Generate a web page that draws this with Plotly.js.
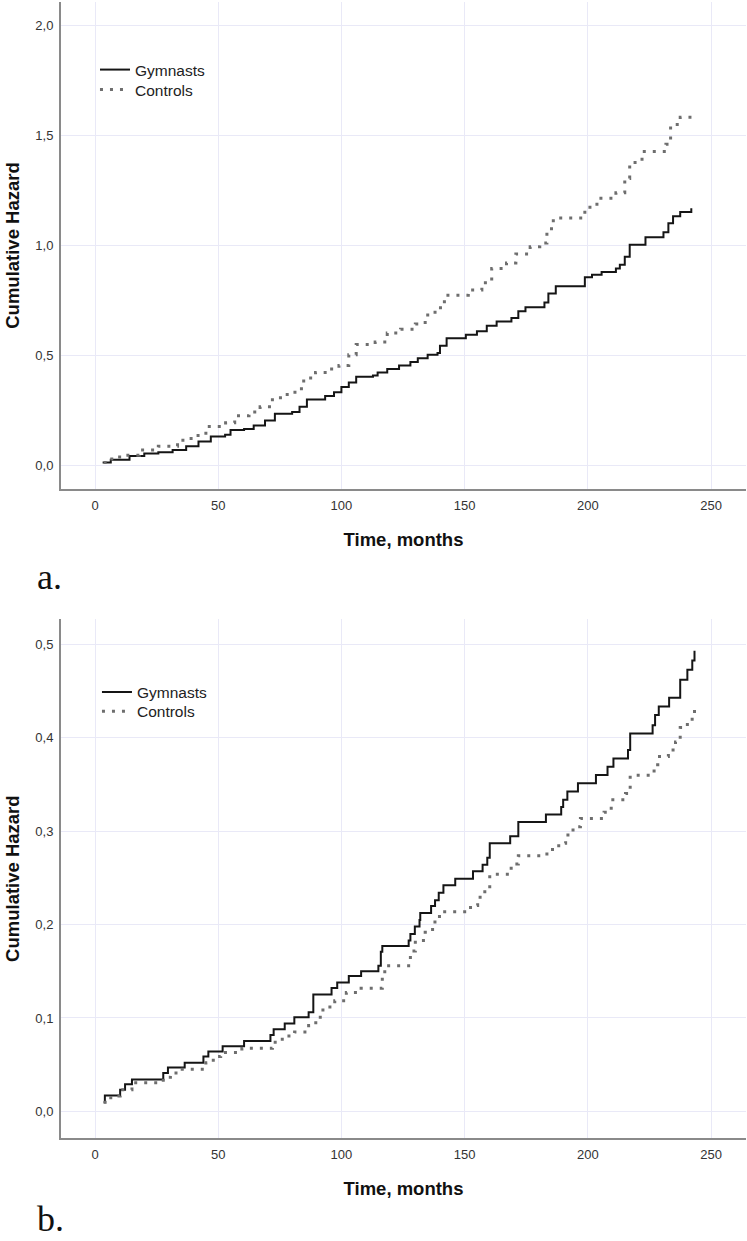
<!DOCTYPE html>
<html>
<head>
<meta charset="utf-8">
<script src="https://cdn.plot.ly/plotly-3.0.1.min.js"></script>
<style>
  html, body { margin: 0; padding: 0; background: #ffffff; }
  #chart { width: 747px; height: 1241px; }
</style>
</head>
<body>
<div id="chart"></div>
<script>
// ---------- Data ----------
// Panel a.
const gymA_time = [3.1, 6.4, 14, 20, 25.7, 31.5, 37, 42, 47, 52.8, 55, 60.5, 64.4, 69, 73, 80, 83, 86, 93.4, 97, 100, 103, 106, 112.8, 114.7, 118.6, 123.4, 128, 131, 135, 139, 140, 142.7, 150.5, 155, 159, 163, 169, 171.8, 174.7, 182.4, 184, 187, 198.8, 201.7, 205.6, 211.4, 213, 215, 217, 223.4, 230.7, 232.7, 234.6, 237.5, 242];
const gymA_haz  = [0.013, 0.025, 0.042, 0.054, 0.059, 0.07, 0.087, 0.108, 0.131, 0.139, 0.16, 0.165, 0.181, 0.204, 0.234, 0.242, 0.266, 0.299, 0.315, 0.332, 0.356, 0.376, 0.402, 0.408, 0.422, 0.438, 0.454, 0.47, 0.487, 0.503, 0.511, 0.544, 0.577, 0.593, 0.609, 0.634, 0.654, 0.67, 0.7, 0.719, 0.74, 0.781, 0.814, 0.855, 0.866, 0.879, 0.895, 0.912, 0.948, 1.002, 1.037, 1.059, 1.1, 1.132, 1.152, 1.168];

const ctlA_time = [3.5, 6.8, 12, 18, 25.7, 33.5, 39, 45, 53, 56.7, 62.5, 67, 72, 78, 82, 84.7, 89.5, 95, 99, 103, 106, 113.7, 118.6, 124, 130, 134, 138, 141.8, 151.5, 157, 161, 167, 170.8, 176.6, 180.5, 183.4, 186, 198.8, 203.7, 211.4, 215, 217, 222, 231.7, 233.6, 237.5, 242.4];
const ctlA_haz  = [0.013, 0.038, 0.046, 0.07, 0.087, 0.114, 0.136, 0.176, 0.193, 0.225, 0.242, 0.266, 0.307, 0.332, 0.348, 0.397, 0.422, 0.438, 0.454, 0.503, 0.549, 0.56, 0.601, 0.618, 0.642, 0.683, 0.716, 0.773, 0.797, 0.83, 0.895, 0.92, 0.961, 0.993, 1.01, 1.075, 1.124, 1.173, 1.214, 1.239, 1.304, 1.377, 1.426, 1.459, 1.549, 1.582, 1.59];

// Panel b.
const gymB_time = [3.5, 4, 10.2, 12.2, 15, 27.7, 29.6, 36.4, 44, 46, 51.8, 60.5, 71.2, 72.5, 77, 80.9, 86.7, 88.6, 96, 98.3, 103, 108, 115, 116, 116.6, 127.3, 128, 129.8, 131.7, 132, 136.4, 138, 139.5, 141.4, 146.2, 153.4, 157.3, 159.2, 160.2, 168.5, 171.8, 183, 189.2, 190, 191.7, 196, 203.3, 208, 210.4, 216.3, 217.2, 226.3, 227.3, 228.8, 233, 237.5, 240.4, 242.4, 243.3];
const gymB_haz  = [0.0098, 0.017, 0.023, 0.029, 0.034, 0.041, 0.047, 0.052, 0.0586, 0.064, 0.0697, 0.0754, 0.0816, 0.088, 0.094, 0.1007, 0.106, 0.125, 0.132, 0.138, 0.145, 0.150, 0.156, 0.171, 0.177, 0.183, 0.19, 0.198, 0.205, 0.2125, 0.22, 0.226, 0.234, 0.242, 0.249, 0.257, 0.264, 0.2715, 0.287, 0.2946, 0.31, 0.318, 0.326, 0.3336, 0.3425, 0.3514, 0.3602, 0.369, 0.378, 0.3869, 0.4046, 0.4135, 0.4246, 0.4335, 0.443, 0.4623, 0.473, 0.483, 0.4933];

const ctlB_time = [3.5, 6.4, 10.2, 15, 27.7, 30.6, 35.4, 45, 48, 51, 59.6, 72, 76, 81, 86.7, 89.6, 92.5, 97.3, 102, 108, 116.6, 117.6, 128, 130, 134, 137, 139.8, 152.4, 155.3, 158.2, 160.2, 168.9, 171.8, 183.4, 188.2, 191, 194, 197, 206.6, 209.5, 215.3, 217.2, 226.9, 228.4, 232.7, 235.6, 237.5, 240.4, 243.3];
const ctlB_haz  = [0.0098, 0.0164, 0.023, 0.0306, 0.0364, 0.041, 0.045, 0.052, 0.0586, 0.063, 0.0674, 0.074, 0.0807, 0.085, 0.0918, 0.1007, 0.1118, 0.1185, 0.1273, 0.1318, 0.145, 0.156, 0.1717, 0.183, 0.1917, 0.2028, 0.2138, 0.2205, 0.2294, 0.2405, 0.2538, 0.265, 0.2737, 0.2804, 0.287, 0.296, 0.3048, 0.3137, 0.3203, 0.3336, 0.3403, 0.36, 0.3713, 0.38, 0.3869, 0.3957, 0.411, 0.42, 0.432];

const seriesNames = ["Gymnasts", "Controls"];
const panelLabels = ["a.", "b."];
const xTitle = "Time, months";
const yTitle = "Cumulative Hazard";
const xTickVals = [0, 50, 100, 150, 200, 250];

// ---------- Styling ----------
const FONT = "Liberation Sans, Arial, sans-serif";
const gridCol = "#e9e9f7";
const axisCol = "#8a8a8a";
const gymLine = { shape: "hv", color: "#151515", width: 2 };
const ctlLine = { shape: "hv", color: "#6e6e6e", width: 3, dash: "3px,7px" };

const traces = [
  { x: gymA_time, y: gymA_haz, name: seriesNames[0], type: "scatter", mode: "lines",
    line: gymLine, xaxis: "x", yaxis: "y", legend: "legend" },
  { x: ctlA_time, y: ctlA_haz, name: seriesNames[1], type: "scatter", mode: "lines",
    line: ctlLine, xaxis: "x", yaxis: "y", legend: "legend2" },
  { x: gymB_time, y: gymB_haz, name: seriesNames[0], type: "scatter", mode: "lines",
    line: gymLine, xaxis: "x2", yaxis: "y2", legend: "legend3" },
  { x: ctlB_time, y: ctlB_haz, name: seriesNames[1], type: "scatter", mode: "lines",
    line: ctlLine, xaxis: "x2", yaxis: "y2", legend: "legend4" }
];

function legendAt(x, y) {
  return {
    x: x, y: y, xanchor: "left", yanchor: "top",
    bgcolor: "rgba(0,0,0,0)", borderwidth: 0,
    font: { family: FONT, size: 15.5, color: "#222222" }
  };
}

function xAxis(anchor) {
  return {
    anchor: anchor, domain: [0, 1],
    range: [-13.8, 264.2], tickvals: xTickVals,
    showgrid: true, gridcolor: gridCol, gridwidth: 1, zeroline: false,
    showline: true, linecolor: axisCol, linewidth: 2,
    ticks: "", ticklabelstandoff: 3,
    tickfont: { family: FONT, size: 13, color: "#333333" },
    title: { text: xTitle, font: { family: FONT, size: 18.5, color: "#111111", weight: "bold" }, standoff: 21 },
    automargin: false
  };
}

function yAxis(anchor, domain, range, dtick) {
  return {
    anchor: anchor, domain: domain,
    range: range, dtick: dtick, tick0: 0, tickformat: ".1f",
    showgrid: true, gridcolor: gridCol, gridwidth: 1, zeroline: false,
    showline: true, linecolor: axisCol, linewidth: 2,
    ticks: "", ticklabelstandoff: 3,
    tickfont: { family: FONT, size: 13, color: "#333333" },
    title: { text: yTitle, font: { family: FONT, size: 18.5, color: "#111111", weight: "bold" }, standoff: 11 },
    automargin: false
  };
}

const labelFont = { family: "Liberation Serif, Times New Roman, serif", size: 36, color: "#111111" };

const layout = {
  width: 747, height: 1241,
  margin: { l: 61, r: 1, t: 2, b: 103 },
  paper_bgcolor: "#ffffff", plot_bgcolor: "#ffffff",
  separators: ", ",
  showlegend: true,
  font: { family: FONT, color: "#333333", size: 13 },
  xaxis: xAxis("y"),
  yaxis: yAxis("x", [0.5713, 1], [-0.1077, 2.106], 0.5),
  xaxis2: xAxis("y2"),
  yaxis2: yAxis("x2", [0, 0.4566], [-0.0286, 0.527], 0.1),
  legend: legendAt(0.0496, 0.9551),
  legend2: legendAt(0.0496, 0.9375),
  legend3: legendAt(0.0525, 0.4073),
  legend4: legendAt(0.0525, 0.3902),
  annotations: [
    { text: panelLabels[0], xref: "paper", yref: "paper", x: -0.038, y: 0.4941,
      xanchor: "left", yanchor: "middle", showarrow: false, font: labelFont },
    { text: panelLabels[1], xref: "paper", yref: "paper", x: -0.038, y: -0.0713,
      xanchor: "left", yanchor: "middle", showarrow: false, font: labelFont }
  ]
};

Plotly.newPlot("chart", traces, layout, { staticPlot: true, displayModeBar: false });
</script>
</body>
</html>
